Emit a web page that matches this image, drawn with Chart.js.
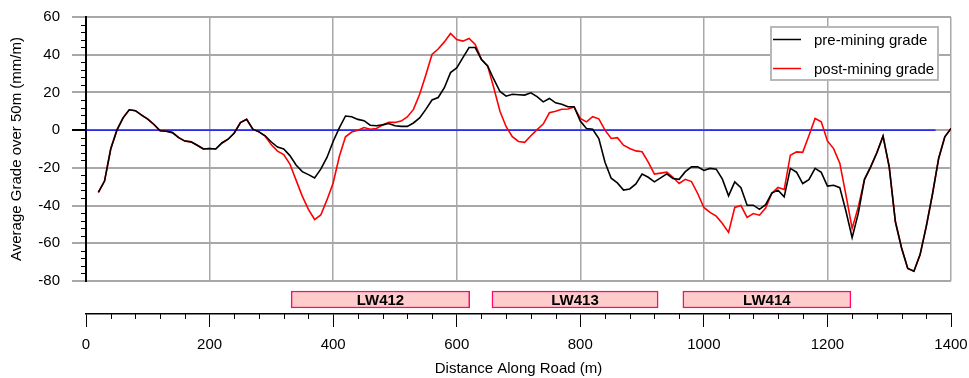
<!DOCTYPE html>
<html>
<head>
<meta charset="utf-8">
<script src="https://cdn.jsdelivr.net/npm/chart.js@4/dist/chart.umd.min.js"></script>
<style>
html, body { margin: 0; padding: 0; background: #fff; overflow: hidden; }
#wrap { position: relative; width: 969px; height: 378px; }
#gradeBox { position: absolute; left: 0; top: 0; width: 969px; height: 300px; }
#roadBox { position: absolute; left: 0; top: 282px; width: 969px; height: 96px; }
</style>
</head>
<body>
<div id="wrap">
  <div id="gradeBox"><canvas id="gradeChart"></canvas></div>
  <div id="roadBox"><canvas id="roadChart"></canvas></div>
</div>
<script>
// distance along road (m), one reading every 10 m
const distance = [
  20, 30, 40, 50, 60, 70, 80, 90, 100, 110, 120, 130, 140, 150, 160, 170, 180, 190, 200,
  210, 220, 230, 240, 250, 260, 270, 280, 290, 300, 310, 320, 330, 340, 350, 360, 370, 380, 390, 400,
  410, 420, 430, 440, 450, 460, 470, 480, 490, 500, 510, 520, 530, 540, 550, 560, 570, 580, 590, 600,
  610, 620, 630, 640, 650, 660, 670, 680, 690, 700, 710, 720, 730, 740, 750, 760, 770, 780, 790, 800,
  810, 820, 830, 840, 850, 860, 870, 880, 890, 900, 910, 920, 930, 940, 950, 960, 970, 980, 990, 1000,
  1010, 1020, 1030, 1040, 1050, 1060, 1070, 1080, 1090, 1100, 1110, 1120, 1130, 1140, 1150, 1160, 1170, 1180, 1190, 1200,
  1210, 1220, 1230, 1240, 1250, 1260, 1270, 1280, 1290, 1300, 1310, 1320, 1330, 1340, 1350, 1360, 1370, 1380, 1390, 1400
]

// average grade over 50m (mm/m) before mining
const preGrade = [
  -33, -27, -10, 0, 6.5, 10.8, 10.3, 8, 5.8, 3, -0.3, -0.6, -1.3, -4, -5.8, -6.2, -8, -10, -9.7,
  -10, -6.8, -4.8, -1.5, 4, 5.7, 0.5, -0.9, -3, -6.3, -9, -10, -13.5, -18.5, -22, -23.6, -25.3, -20.7, -14.5, -6,
  1.2, 7.5, 7.1, 5.7, 5, 2.6, 2.3, 2.8, 3.5, 2.3, 2, 2, 3.8, 6.5, 11, 16, 17.3, 22.5, 30.5, 33,
  38.5, 43.8, 43.8, 37.5, 34, 27, 20.5, 18, 19, 18.8, 18.6, 19.8, 17.8, 15, 16.8, 14.5, 13.7, 12.4, 12.4, 4.8,
  0.9, 0.5, -4.5, -17, -25.5, -28, -31.8, -31.2, -28.5, -23.3, -25, -27.4, -25.3, -23.2, -25.6, -26.1, -22, -19.5, -19.5, -21.4,
  -20.3, -20.7, -26, -34.8, -27.4, -30.5, -39.8, -39.8, -42, -39.5, -33.4, -31.8, -35.4, -20.3, -22.3, -28.3, -26.3, -20.3, -22.4, -29.7,
  -29.2, -30.5, -43, -57, -44, -26.1, -19.5, -12, -3.2, -19.5, -48.6, -62.5, -73.3, -74.8, -66, -51, -34, -15, -3.5, 0.9
]

// average grade over 50m (mm/m) after mining
const postGrade = [
  -33, -27, -10, 0, 6.5, 10.8, 10.3, 8, 5.8, 3, -0.3, -0.6, -1.3, -4, -5.8, -6.2, -8, -10, -9.7,
  -10, -6.8, -4.8, -1.5, 4, 5.7, 0.5, -0.9, -3.2, -7.8, -11.1, -13, -18, -26.5, -35, -42, -47.4, -45, -37, -28,
  -14, -3.5, -1, 0, 1.4, 0.5, 0.9, 2.7, 4.1, 4.1, 4.8, 7, 11, 19, 29.2, 40.1, 43, 46.8, 51.3, 48,
  47.2, 48.6, 45.4, 37.5, 34.1, 22.5, 10, 1.8, -3.5, -6, -6.5, -3, 0.3, 3.2, 9.2, 10, 11.1, 11.2, 12.3, 6.2,
  4.4, 7.1, 6, 0, -4.4, -4, -8, -9.7, -11, -11.5, -17, -23.3, -22.8, -22.3, -25, -28.3, -26.1, -27.3, -33.6, -41,
  -43.6, -45.6, -49.5, -54.2, -41, -40, -46.3, -44.2, -45.1, -41.3, -33.5, -30.4, -31.5, -13.3, -11.5, -11.8, -3, 6.2, 4.4, -5.7,
  -9.8, -17.5, -34.5, -52.1, -40.7, -26.1, -19.5, -12, -3.2, -19.5, -48.6, -62.5, -73.3, -74.8, -66, -51, -34, -15, -3.5, 0.9
]

// zero-grade reference line
const zeroDistance = [0, 1375]
const zeroGrade = [0, 0]

// longwall panels under the road
const panelNames = ["LW412", "LW413", "LW414"]
const panelStart = [332, 657, 966]
const panelEnd = [621, 926, 1238]

const yTicks = [-80, -60, -40, -20, 0, 20, 40, 60]
const xTicks = [0, 200, 400, 600, 800, 1000, 1200, 1400]

const font = "'Liberation Sans', Arial, sans-serif"
const gridGrey = "#a8a8a8"

function pts(xs, ys) {
  return xs.map((x, i) => ({ x: x, y: ys[i] }))
}

// keep the plot area where the layout padding puts it
function noEdgePadding(s) {
  s.paddingTop = 0
  s.paddingBottom = 0
  s.paddingLeft = 0
  s.paddingRight = 0
}

// short ticks between the labelled ones
const minorTicks = {
  id: "minorTicks",
  afterDraw(chart, args, opts) {
    const ctx = chart.ctx
    const sc = chart.scales[opts.axis]
    ctx.save()
    ctx.strokeStyle = "#000"
    ctx.lineWidth = 1
    ctx.beginPath()
    for (let v = sc.min; v <= sc.max + 1e-9; v += opts.step) {
      if (Math.abs(v % opts.major) < 1e-9) continue
      const p = Math.round(sc.getPixelForValue(v)) + 0.5
      if (opts.axis === "y") {
        ctx.moveTo(sc.right - opts.len, p)
        ctx.lineTo(sc.right, p)
      } else {
        ctx.moveTo(p, sc.top)
        ctx.lineTo(p, sc.top + opts.len)
      }
    }
    ctx.stroke()
    ctx.restore()
  }
}

// boxed legend in the top right of the plot
const boxLegend = {
  id: "boxLegend",
  afterDraw(chart) {
    const ctx = chart.ctx
    const x0 = 771, y0 = 27, w = 167, h = 53
    ctx.save()
    ctx.fillStyle = "#fff"
    ctx.fillRect(x0, y0, w, h)
    ctx.strokeStyle = "#b8b8b8"
    ctx.lineWidth = 2
    ctx.strokeRect(x0, y0, w, h)
    ctx.font = "15px " + font
    ctx.textBaseline = "middle"
    chart.data.datasets.slice(0, 2).forEach((ds, i) => {
      const y = 39.5 + i * 29
      ctx.strokeStyle = ds.borderColor
      ctx.lineWidth = 1.5
      ctx.beginPath()
      ctx.moveTo(773, y)
      ctx.lineTo(801, y)
      ctx.stroke()
      ctx.fillStyle = "#000"
      ctx.fillText(ds.label, 814, y + 1)
    })
    ctx.restore()
  }
}

new Chart(document.getElementById("gradeChart"), {
  type: "line",
  data: {
    datasets: [
      { label: "pre-mining grade", data: pts(distance, preGrade), borderColor: "#000000", borderWidth: 1.6, pointRadius: 0, tension: 0, order: 0 },
      { label: "post-mining grade", data: pts(distance, postGrade), borderColor: "#ff0000", borderWidth: 1.6, pointRadius: 0, tension: 0, order: 1 },
      { label: "zero", data: pts(zeroDistance, zeroGrade), borderColor: "#0000ff", borderWidth: 1.4, pointRadius: 0, tension: 0, order: 2 }
    ]
  },
  options: {
    responsive: true,
    maintainAspectRatio: false,
    animation: false,
    layout: { padding: { left: 0, right: 18, top: 17, bottom: 19 } },
    plugins: {
      legend: { display: false },
      tooltip: { enabled: false },
      minorTicks: { axis: "y", step: 4, major: 20, len: 5 }
    },
    scales: {
      x: {
        type: "linear",
        min: 0,
        max: 1400,
        afterBuildTicks: s => { s.ticks = xTicks.map(v => ({ value: v })) },
        ticks: { display: false },
        grid: { color: gridGrey, lineWidth: 1.5, drawTicks: false },
        border: { display: false },
        afterFit: s => { s.height = 0; noEdgePadding(s) }
      },
      y: {
        min: -80,
        max: 60,
        afterBuildTicks: s => { s.ticks = yTicks.map(v => ({ value: v })) },
        ticks: { color: "#000", font: { family: font, size: 15 }, padding: 12, callback: v => String(v) },
        grid: {
          color: gridGrey,
          lineWidth: 2,
          tickLength: 14,
          tickColor: c => c.tick && c.tick.value === 0 ? "#000" : gridGrey
        },
        border: { display: true, color: "#000", width: 2 },
        title: {
          display: true,
          text: "Average Grade over 50m (mm/m)",
          color: "#000",
          font: { family: font, size: 15 },
          padding: { top: 8, bottom: 0 }
        },
        afterFit: s => { s.width = 86; noEdgePadding(s) }
      }
    }
  },
  plugins: [minorTicks, boxLegend]
})

// panel names written on their bars
const panelLabels = {
  id: "panelLabels",
  afterDatasetsDraw(chart) {
    const ctx = chart.ctx
    ctx.save()
    ctx.font = "bold 15px " + font
    ctx.fillStyle = "#000"
    ctx.textAlign = "center"
    ctx.textBaseline = "middle"
    chart.getDatasetMeta(0).data.forEach((bar, i) => {
      ctx.fillText(panelNames[i], (bar.x + bar.base) / 2, bar.y + 1)
    })
    ctx.restore()
  }
}

new Chart(document.getElementById("roadChart"), {
  type: "bar",
  data: {
    datasets: [{
      data: panelStart.map((s, i) => ({ x: [s, panelEnd[i]], y: 0.5 })),
      backgroundColor: "#ffcccc",
      borderColor: "#ff0a6c",
      borderWidth: 1.5,
      borderSkipped: false,
      barThickness: 17
    }]
  },
  options: {
    indexAxis: "y",
    responsive: true,
    maintainAspectRatio: false,
    animation: false,
    layout: { padding: { left: 86, right: 18, top: 0, bottom: 0 } },
    plugins: {
      legend: { display: false },
      tooltip: { enabled: false },
      minorTicks: { axis: "x", step: 40, major: 200, len: 5 }
    },
    scales: {
      y: { type: "linear", min: -0.25, max: 1.6, display: false },
      x: {
        type: "linear",
        min: 0,
        max: 1400,
        afterBuildTicks: s => { s.ticks = xTicks.map(v => ({ value: v })) },
        ticks: { color: "#000", font: { family: font, size: 15 }, padding: 9, maxRotation: 0, callback: v => String(v) },
        grid: { drawOnChartArea: false, tickLength: 13, tickColor: "#000", tickWidth: 1 },
        border: { display: true, color: "#000", width: 1.5 },
        title: {
          display: true,
          text: "Distance Along Road (m)",
          color: "#000",
          font: { family: font, size: 15 },
          padding: { top: 0, bottom: 0 }
        },
        afterFit: s => { s.height = 64; noEdgePadding(s) }
      }
    }
  },
  plugins: [minorTicks, panelLabels]
})
</script>
</body>
</html>
